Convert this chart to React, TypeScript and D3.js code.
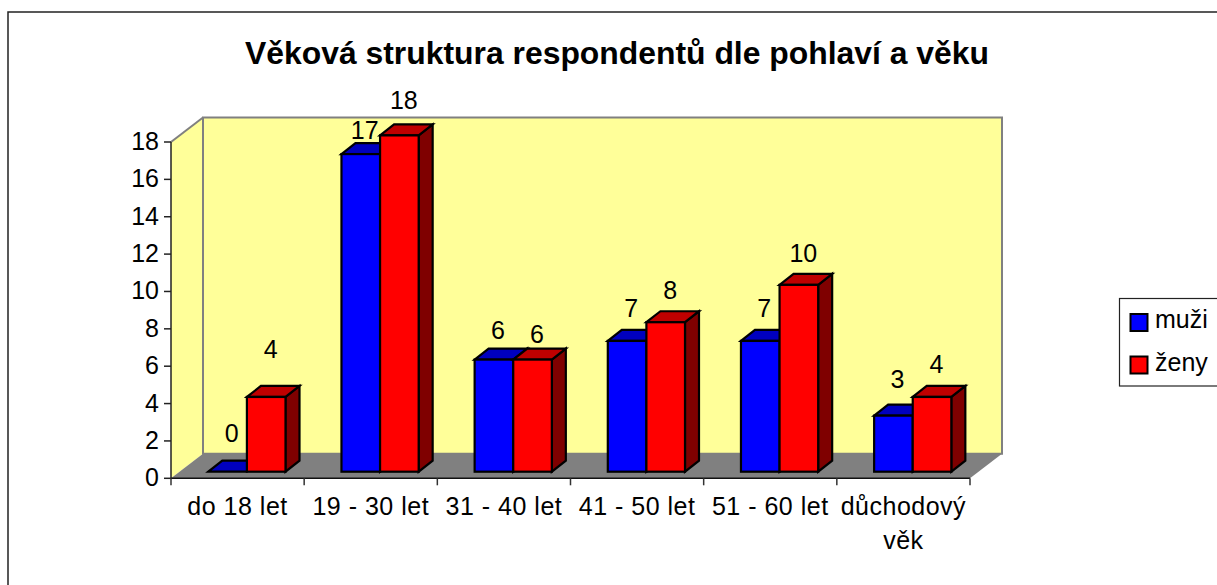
import React from "react";
import * as d3 from "d3";

const categories = ["do 18 let", "19 - 30 let", "31 - 40 let", "41 - 50 let", "51 - 60 let", "důchodový|věk"];
const muzi = [0, 17, 6, 7, 7, 3];
const zeny = [4, 18, 6, 8, 10, 4];
const yTicks = d3.range(0, 19, 2);
const title = "Věková struktura respondentů dle pohlaví a věku";
const muziLift = [39, 24.5, 29.7, 33, 33, 36.7];
const zenyLift = [48, 35, 25.7, 32, 32, 33];

const W = 1217, H = 585;
const x = d3.scaleBand<string>().domain(categories).range([171, 970]);
const y = d3.scaleLinear().domain([0, 18]).range([478.3, 142]);
const wallDx = 32, wallDy = -24.5;
const barDx = 14, barDy = -11;
const floorFront = 6.6;
const barW = 38.6;
const FONT = "'Liberation Sans', Arial, sans-serif";

const poly = (p: number[][]) => p.map((q) => q.join(",")).join(" ");

function Bar({ left, value, fill, top, side }: { left: number; value: number; fill: string; top: string; side: string }) {
  const base = y(0) - floorFront;
  const t = y(value) - floorFront;
  const r = left + barW;
  return (
    <g stroke="#000" strokeWidth={2.2} strokeLinejoin="miter">
      {value > 0 && (
        <polygon points={poly([[r, t], [r + barDx, t + barDy], [r + barDx, base + barDy], [r, base]])} fill={side} />
      )}
      <polygon points={poly([[left, t], [left + barDx, t + barDy], [r + barDx, t + barDy], [r, t]])} fill={top} />
      {value > 0 && <rect x={left} y={t} width={barW} height={base - t} fill={fill} />}
    </g>
  );
}

export default function App() {
  const x0 = x.range()[0], x1 = x.range()[1];
  const y0 = y(0), yT = y(18);
  const tickX = [...categories.map((c) => x(c)!), x1];
  const barLeft = (c: string) => x(c)! + 37.3;
  return (
    <svg width={W} height={H} style={{ position: "absolute", left: 0, top: 0, background: "#fff" }} fontFamily={FONT} fill="#000">
      <path d={`M8,${H + 2}V12H${W + 2}`} fill="none" stroke="#222" strokeWidth={1.5} />
      <text x={617} y={64} textAnchor="middle" fontSize={30.5} fontWeight="bold" textLength={744} lengthAdjust="spacingAndGlyphs">{title}</text>

      <polygon points={poly([[x0, y0], [x0 + wallDx, y0 + wallDy], [x0 + wallDx, yT + wallDy], [x0, yT]])} fill="#FFFF99" />
      <polygon points={poly([[x0 + wallDx, y0 + wallDy], [x1 + wallDx, y0 + wallDy], [x1 + wallDx, yT + wallDy], [x0 + wallDx, yT + wallDy]])} fill="#FFFF99" stroke="#808080" strokeWidth={2} />
      <line x1={x0} y1={yT} x2={x0 + wallDx} y2={yT + wallDy} stroke="#808080" strokeWidth={2} />
      <polygon points={poly([[x0, y0], [x0 + wallDx, y0 + wallDy], [x1 + wallDx, y0 + wallDy], [x1, y0]])} fill="#808080" />

      {categories.map((c, i) => (
        <g key={c}>
          <Bar left={barLeft(c)} value={muzi[i]} fill="#0000FF" top="#0000BF" side="#00007F" />
          <Bar left={barLeft(c) + barW} value={zeny[i]} fill="#FF0000" top="#BF0000" side="#7F0000" />
        </g>
      ))}

      <line x1={x0} y1={y0} x2={x0} y2={yT} stroke="#222" strokeWidth={1.5} />
      <line x1={x0} y1={y0} x2={x1} y2={y0} stroke="#111" strokeWidth={1.5} />
      {yTicks.map((t) => (
        <g key={t}>
          <line x1={x0 - 7} x2={x0} y1={y(t)} y2={y(t)} stroke="#222" strokeWidth={1.5} />
          <text x={159} y={y(t) + 8} textAnchor="end" fontSize={25}>{t}</text>
        </g>
      ))}
      {tickX.map((t, i) => (
        <line key={i} x1={t} x2={t} y1={y0} y2={y0 + 7} stroke="#333" strokeWidth={1.5} />
      ))}
      {categories.map((c) =>
        c.split("|").map((p, j) => (
          <text key={p} x={x(c)! + x.bandwidth() / 2} y={515 + j * 34} textAnchor="middle" fontSize={25} letterSpacing={0.5}>{p}</text>
        ))
      )}

      {categories.map((c, i) => (
        <g key={c} fontSize={25} textAnchor="middle">
          <text x={barLeft(c) + barW / 2 + 4} y={y(muzi[i]) - floorFront - muziLift[i] + 9}>{muzi[i]}</text>
          <text x={barLeft(c) + barW * 1.5 + 4.5} y={y(zeny[i]) - floorFront - zenyLift[i] + 9}>{zeny[i]}</text>
        </g>
      ))}

      <rect x={1119.5} y={298.5} width={120} height={87.5} fill="#fff" stroke="#222" strokeWidth={1.2} />
      <rect x={1130.5} y={314} width={17} height={17} fill="#0000FF" stroke="#000" strokeWidth={2} />
      <rect x={1130.5} y={356.5} width={17} height={17} fill="#FF0000" stroke="#000" strokeWidth={2} />
      <text x={1155} y={328} fontSize={25}>muži</text>
      <text x={1155} y={371} fontSize={25}>ženy</text>
    </svg>
  );
}
